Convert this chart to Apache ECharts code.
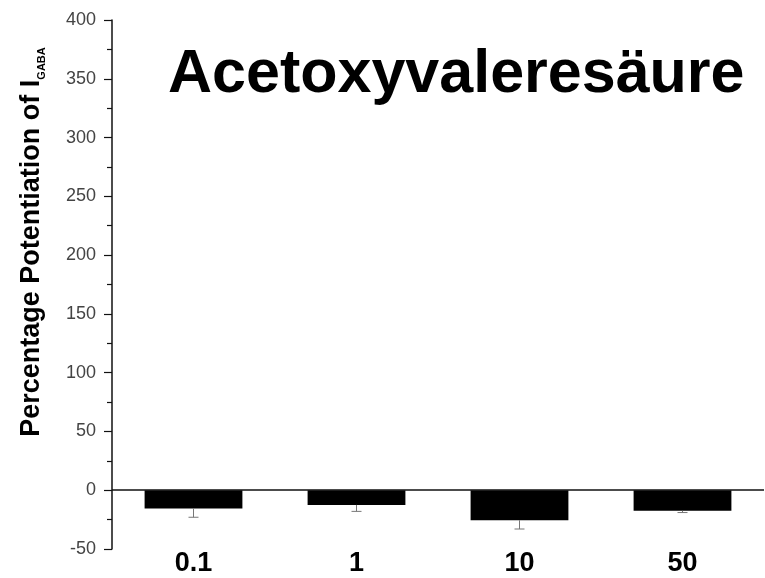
<!DOCTYPE html>
<html>
<head>
<meta charset="utf-8">
<script src="https://cdn.jsdelivr.net/npm/echarts@6/dist/echarts.min.js"></script>
<style>html,body{margin:0;padding:0;background:#fff;}#c{width:765px;height:578px;}</style>
</head>
<body>
<div id="c"></div>
<script>
const categories = ['0.1', '1', '10', '50'];
const meanValues = [-15.5, -12.5, -25.5, -17.5];
const errorValues = [7.5, 5.5, 7.5, 1.5];
const yTicks = { min: -50, max: 400, interval: 50 };
const titleText = 'Acetoxyvaleresäure';

const chart = echarts.init(document.getElementById('c'));
const errData = categories.map((c, i) => [i, meanValues[i], errorValues[i]]);

chart.setOption({
  backgroundColor: '#fff',
  animation: false,
  title: {
    text: titleText,
    left: 163, top: 40,
    textStyle: { fontFamily: 'Liberation Sans, Arial, sans-serif', fontWeight: 'bold', fontSize: 61, color: '#000' }
  },
  graphic: [{
    type: 'text',
    x: 32, y: 242,
    rotation: Math.PI / 2,
    style: {
      text: '{m|Percentage Potentiation of I}{s|GABA}',
      align: 'center', verticalAlign: 'middle',
      rich: {
        m: { fontFamily: 'Liberation Sans, Arial, sans-serif', fontWeight: 'bold', fontSize: 27, lineHeight: 30, fill: '#000' },
        s: { fontFamily: 'Liberation Sans, Arial, sans-serif', fontWeight: 'bold', fontSize: 11, lineHeight: 11, verticalAlign: 'bottom', fill: '#000' }
      }
    }
  }],
  grid: { left: 112, right: 1, top: 20, bottom: 29, containLabel: false },
  xAxis: {
    type: 'category',
    data: categories,
    axisLine: { show: false, onZero: false },
    axisTick: { show: false },
    axisLabel: { fontFamily: 'Liberation Sans, Arial, sans-serif', fontWeight: 'bold', fontSize: 27, color: '#000', margin: 1 },
    splitLine: { show: false }
  },
  yAxis: {
    type: 'value',
    min: yTicks.min, max: yTicks.max, interval: yTicks.interval,
    axisLine: { show: true, lineStyle: { color: '#111', width: 1.5 } },
    axisTick: { show: true, inside: false, length: 8, lineStyle: { color: '#111', width: 1.2 } },
    minorTick: { show: true, splitNumber: 2, length: 5, lineStyle: { color: '#111', width: 1.2 } },
    axisLabel: { fontFamily: 'Liberation Sans, Arial, sans-serif', fontSize: 18, color: '#444', margin: 16 },
    splitLine: { show: false }
  },
  series: [{
    type: 'bar',
    data: meanValues,
    barWidth: '60%',
    itemStyle: { color: '#000' },
    z: 3,
    markLine: {
      silent: true,
      symbol: 'none',
      label: { show: false },
      lineStyle: { color: '#111', width: 1.5, type: 'solid' },
      data: [{ yAxis: 0 }]
    }
  }, {
    type: 'custom',
    data: errData,
    z: 4,
    renderItem: function (params, api) {
      const idx = api.value(0), v = api.value(1), e = api.value(2);
      const p0 = api.coord([idx, v]);
      const p1 = api.coord([idx, v - e]);
      const hw = 5;
      return {
        type: 'group',
        children: [
          { type: 'line', shape: { x1: p0[0], y1: p0[1], x2: p1[0], y2: p1[1] }, style: { stroke: '#777', lineWidth: 1 } },
          { type: 'line', shape: { x1: p1[0] - hw, y1: p1[1], x2: p1[0] + hw, y2: p1[1] }, style: { stroke: '#777', lineWidth: 1 } }
        ]
      };
    }
  }]
});
</script>
</body>
</html>
